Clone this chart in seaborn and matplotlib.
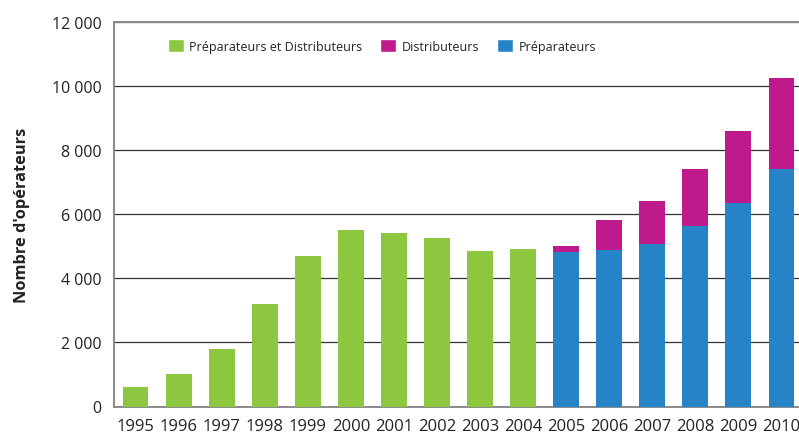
import matplotlib
matplotlib.use("Agg")
import matplotlib.pyplot as plt
import seaborn as sns
import pandas as pd
from matplotlib.patches import Patch
from matplotlib.ticker import FuncFormatter, FixedLocator

years = [str(y) for y in range(1995, 2011)]
prep_dist_years = ["1995", "1996", "1997", "1998", "1999", "2000", "2001", "2002", "2003", "2004"]
prep_dist = [600, 1000, 1800, 3200, 4700, 5500, 5400, 5250, 4850, 4900]
split_years = ["2005", "2006", "2007", "2008", "2009", "2010"]
preparateurs = [4820, 4890, 5060, 5640, 6350, 7420]
totals = [5000, 5820, 6400, 7400, 8600, 10250]

c_green = "#8DC63F"
c_mag = "#BE1A8C"
c_blue = "#2683C6"

sns.set_theme(style="white")
plt.rcParams["font.family"] = ["Open Sans", "DejaVu Sans"]

fig = plt.figure(figsize=(7.99, 4.39), dpi=100)
ax = fig.add_axes([114 / 799, 1 - 407.5 / 439, (803 - 114) / 799, (407.5 - 23) / 439])

df_g = pd.DataFrame({"annee": prep_dist_years, "v": prep_dist})
df_t = pd.DataFrame({"annee": split_years, "v": totals})
df_b = pd.DataFrame({"annee": split_years, "v": preparateurs})

common = dict(x="annee", y="v", order=years, width=0.6, saturation=1, ax=ax,
              linewidth=0, edgecolor="none")
sns.barplot(data=df_g, color=c_green, zorder=3, **common)
sns.barplot(data=df_t, color=c_mag, zorder=3, **common)
sns.barplot(data=df_b, color=c_blue, zorder=4, **common)

ax.set_xlim(-0.5, 15.5)
ax.set_ylim(0, 12000)
ax.set_yticks(range(0, 12001, 2000))
ax.yaxis.set_major_formatter(FuncFormatter(lambda v, p: f"{int(v):,}".replace(",", " ")))
ax.grid(axis="y", color="#333333", linewidth=0.9)
ax.grid(axis="x", visible=False)
ax.set_axisbelow(True)

ax.spines["right"].set_visible(False)
for s in ["left", "bottom", "top"]:
    ax.spines[s].set_color("#8a8a8a")
    ax.spines[s].set_linewidth(1.4)

ax.tick_params(axis="y", length=0, pad=9, labelsize=11.5, labelcolor="#222222")
ax.tick_params(axis="x", which="major", length=0, pad=8, labelsize=12, labelcolor="#222222")
ax.xaxis.set_minor_locator(FixedLocator([i + 0.5 for i in range(15)]))
ax.tick_params(axis="x", which="minor", direction="in", length=7, width=1.4, color="#8a8a8a")

ax.set_xlabel("")
ax.set_ylabel("Nombre d'opérateurs", fontsize=11.8, fontweight="bold", color="#222222")
ax.yaxis.set_label_coords(-0.122, 0.5)

handles = [Patch(facecolor=c_green, label="Préparateurs et Distributeurs"),
           Patch(facecolor=c_mag, label="Distributeurs"),
           Patch(facecolor=c_blue, label="Préparateurs")]
leg = ax.legend(handles=handles, ncol=3, frameon=False, loc="upper left",
                bbox_to_anchor=(0.062, 0.985), fontsize=9.0, handlelength=1.25,
                handleheight=1.25, handletextpad=0.45, columnspacing=1.45)
for t in leg.get_texts():
    t.set_color("#222222")

fig.savefig("out.png", dpi=100)
